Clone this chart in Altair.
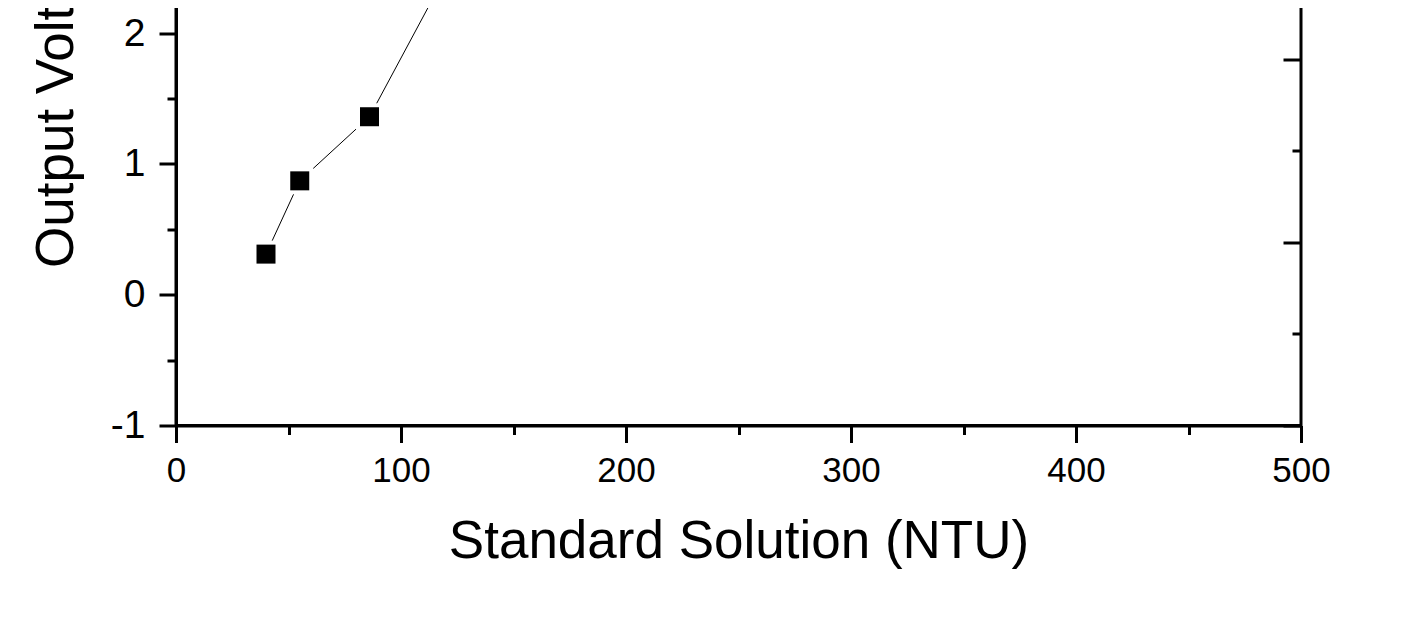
import altair as alt
import pandas as pd

# ---- data ----
ntu = [40, 55, 86, 120]
volt = [0.31, 0.87, 1.36, 2.45]

x_tick_values = [0, 50, 100, 150, 200, 250, 300, 350, 400, 450, 500]
y_left_tick_values = [-1, -0.5, 0, 0.5, 1, 1.5, 2, 2.5, 3, 3.5, 4, 4.5, 5]
y_right_tick_values = [-1, -0.3, 0.4, 1.1, 1.8, 2.5, 3.2, 3.9, 4.6]

x_title = "Standard Solution (NTU)"
y_title = "Output Voltage (V)"

df = pd.DataFrame({"ntu": ntu, "volt": volt})

W, H = 1125, 785
FONT = "Liberation Sans"

xscale = alt.Scale(domain=[0, 500], nice=False, zero=False)
yscale = alt.Scale(domain=[-1, 5], nice=False, zero=False)

x_axis = alt.Axis(
    values=x_tick_values,
    title=x_title,
    grid=False,
    tickSize={"condition": {"test": "datum.value % 100 === 0", "value": 17}, "value": 9},
    labelExpr="datum.value % 100 === 0 ? toString(datum.value) : ''",
    labelFontSize=35,
    labelPadding=11,
    labelFlush=False,
    labelOverlap=False,
    labelBound=False,
    titleFontSize=53,
    titleBaseline="alphabetic",
    titleY=132,
)

y_left_axis = alt.Axis(
    values=y_left_tick_values,
    title=y_title,
    grid=False,
    orient="left",
    tickSize={"condition": {"test": "datum.value % 1 === 0", "value": 17}, "value": 9},
    labelExpr="datum.value % 1 === 0 ? toString(datum.value) : ''",
    labelFontSize=39,
    labelPadding=14,
    labelFlush=False,
    labelOverlap=False,
    labelBound=False,
    titleFontSize=53,
    titleAngle=270,
    titleAlign="left",
    titleBaseline="alphabetic",
    titleX=-104,
    titleY=627,
)

y_right_axis = alt.Axis(
    values=y_right_tick_values,
    title=None,
    grid=False,
    orient="left",
    offset=-W,
    labels=False,
    domain=False,
    tickSize={
        "condition": {
            "test": "abs((datum.value + 1) / 1.4 - round((datum.value + 1) / 1.4)) < 0.01",
            "value": 18,
        },
        "value": 9,
    },
)

x_enc = alt.X("ntu:Q", scale=xscale, axis=x_axis)

base = alt.Chart(df)

line = base.mark_line(color="black", strokeWidth=1).encode(
    x=x_enc, y=alt.Y("volt:Q", scale=yscale, axis=y_left_axis)
)
halo = base.mark_square(color="white", size=27 * 27, opacity=1).encode(
    x=x_enc, y=alt.Y("volt:Q", scale=yscale, axis=y_right_axis)
)
pts = base.mark_square(color="black", size=19 * 19, opacity=1).encode(
    x=x_enc, y=alt.Y("volt:Q", scale=yscale, axis=None)
)

chart = (
    alt.layer(line, halo, pts)
    .resolve_scale(y="shared")
    .resolve_axis(y="independent")
    .properties(
        width=W,
        height=H,
        autosize=alt.AutoSizeParams(type="none"),
        padding={"left": 168, "top": -367.5, "right": 100, "bottom": 195},
    )
    .configure_view(stroke="black", strokeWidth=3)
    .configure_axis(
        labelFont=FONT,
        titleFont=FONT,
        labelColor="black",
        titleColor="black",
        tickColor="black",
        domainColor="black",
        tickWidth=3,
        domainWidth=3,
        titleFontWeight="normal",
    )
)

chart.save(
    "out.html",
    embed_options={
        "renderer": "svg",
        "actions": False,
        "defaultStyle": "svg, svg.marks, #vis svg { overflow: visible !important; } "
                        "#vis, .vega-embed { overflow: visible !important; }",
    },
)
